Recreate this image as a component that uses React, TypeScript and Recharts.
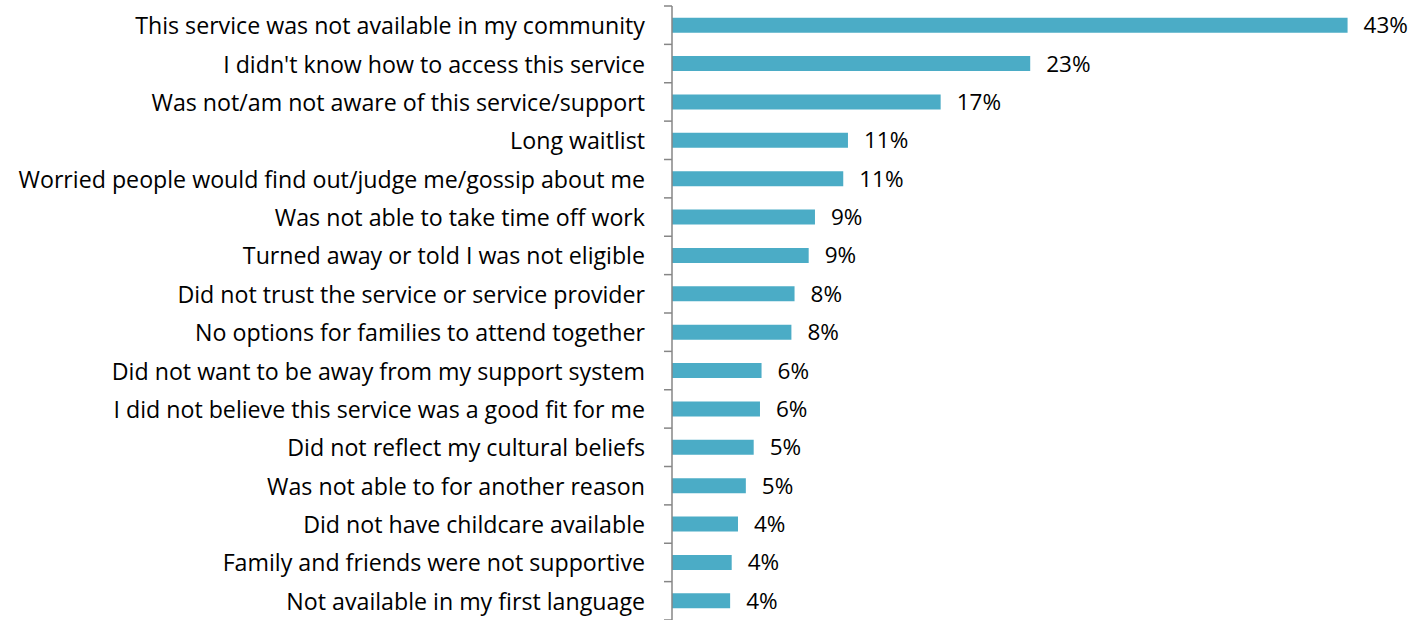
import { BarChart, Bar, XAxis, YAxis, LabelList } from "recharts";

const reasons = [
  "This service was not available in my community",
  "I didn't know how to access this service",
  "Was not/am not aware of this service/support",
  "Long waitlist",
  "Worried people would find out/judge me/gossip about me",
  "Was not able to take time off work",
  "Turned away or told I was not eligible",
  "Did not trust the service or service provider",
  "No options for families to attend together",
  "Did not want to be away from my support system",
  "I did not believe this service was a good fit for me",
  "Did not reflect my cultural beliefs",
  "Was not able to for another reason",
  "Did not have childcare available",
  "Family and friends were not supportive",
  "Not available in my first language",
];

const percents = [43, 22.8, 17.1, 11.2, 10.9, 9.1, 8.7, 7.8, 7.6, 5.7, 5.6, 5.2, 4.7, 4.2, 3.8, 3.7];

const data = reasons.map((reason, i) => ({ reason, value: percents[i] }));

const W = 1417;
const H = 620;
const TOP = 6;
const LEFT_AXIS = 672;
const BAND = (H - TOP) / reasons.length;
const FONT = "'Open Sans', sans-serif";

const CategoryTick = (props: any) => {
  const { x, y, payload, index } = props;
  const top = y - BAND / 2;
  return (
    <g>
      <line x1={LEFT_AXIS - 8} x2={LEFT_AXIS} y1={top} y2={top} stroke="#868686" strokeWidth={1.5} />
      {index === reasons.length - 1 && (
        <line x1={LEFT_AXIS - 8} x2={LEFT_AXIS} y1={top + BAND} y2={top + BAND} stroke="#868686" strokeWidth={1.5} />
      )}
      <text x={x - 17} y={y} textAnchor="end" dominantBaseline="central" fontSize={23.2} fill="#000" fontFamily={FONT}>
        {payload.value}
      </text>
    </g>
  );
};

export default function App() {
  return (
    <div style={{ position: "absolute", left: 0, top: 0 }}>
      <BarChart
        width={W}
        height={H}
        data={data}
        layout="vertical"
        margin={{ top: TOP, right: W - LEFT_AXIS - 707, bottom: 0, left: 0 }}
        barCategoryGap="30.5%"
      >
        <XAxis type="number" domain={[0, 45]} hide />
        <YAxis
          type="category"
          dataKey="reason"
          width={LEFT_AXIS}
          interval={0}
          tickLine={false}
          axisLine={{ stroke: "#868686", strokeWidth: 1.5 }}
          tick={<CategoryTick />}
          tickSize={8}
        />
        <Bar dataKey="value" fill="#4BACC6" isAnimationActive={false}>
          <LabelList
            dataKey="value"
            position="right"
            offset={16}
            formatter={(v: any) => `${Math.round(v)}%`}
            style={{ fontSize: 22.5, fill: "#000", fontFamily: FONT }}
          />
        </Bar>
      </BarChart>
    </div>
  );
}
